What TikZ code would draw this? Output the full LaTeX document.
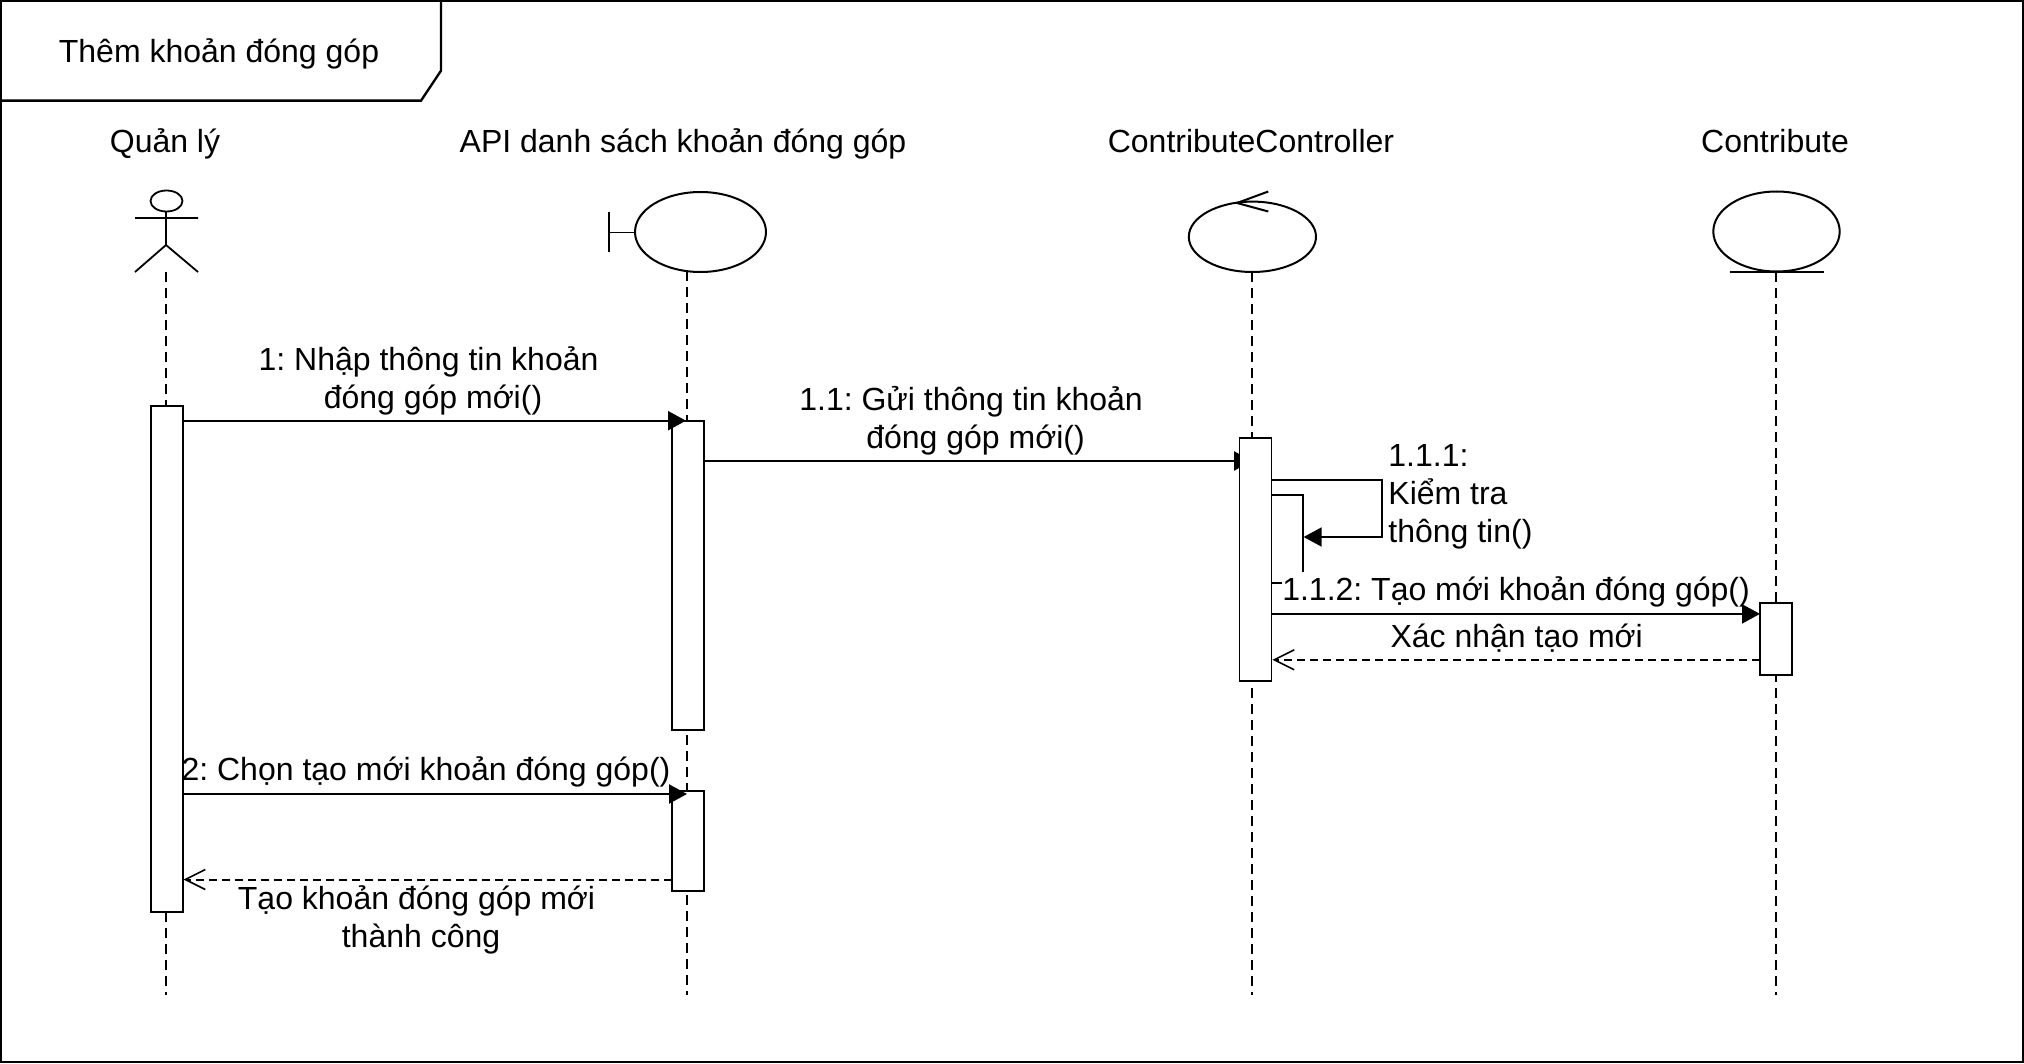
\documentclass[tikz,border=0pt]{standalone}
\usepackage{fontspec}
\setmainfont{Liberation Sans}
\frenchspacing
\usetikzlibrary{arrows.meta,shapes.geometric}
\tikzset{
  x=0.5pt,y=-0.5pt,
  every node/.style={font=\fontsize{16}{19}\selectfont,inner sep=0pt,text=black},
  base/.style={line width=1.1pt,line join=miter},
  lifeline/.style={line width=0.9pt,dash pattern=on 5pt off 3pt},
  headshape/.style={draw,ellipse,line width=1pt,fill=white,inner sep=0pt},
  activation/.style={draw,fill=white,line width=0.9pt,minimum width=16pt},
  call/.style={base,-{Triangle[length=9pt,width=9.5pt]}},
  reply/.style={line width=1pt,dash pattern=on 4pt off 2.5pt,-{Straight Barb[length=10pt,width=10pt,line width=0.8pt]}},
  msg/.style={align=center},
}
\newcommand{\trailspace}{\kern 0.278em}
\begin{document}
\begin{tikzpicture}
\useasboundingbox (0,0) rectangle (2024,1064);
% frame
\draw[line width=1.2pt,fill=white] (1,1) rectangle (2023,1062);
\draw[line width=1.2pt] (1,100.7) -- (421,100.7) -- (441,70.7) -- (441,1);
\node (title) at (219,53.5) {Thêm khoản đóng góp};
% participant names
\node (nA) at (165,143.5) {Quản lý};
\node (nB) at (683,143.5) {API danh sách khoản đóng góp};
\node (nC) at (1251,141) {ContributeController};
\node (nD) at (1775,141) {Contribute};
% actor
\draw[line width=0.9pt] (166,211.5) -- (166,245) (135,218) -- (198,218) (135,272) -- (166,245) -- (198,272);
\node[draw,ellipse,line width=0.9pt,minimum width=16pt,minimum height=10.5pt] (actor) at (166.5,201) {};
\coordinate (actorFoot) at (166,272);
% boundary
\node[headshape,minimum width=65.5pt,minimum height=40pt] (boundary) at (700.5,232) {};
\coordinate (bBar) at (609,232.5);
\draw[line width=0.9pt] (bBar) -- (bBar -| boundary.west) (609,212.5) -- (609,252);
% control
\node[headshape,minimum width=63.6pt,minimum height=35.2pt] (control) at (1252.4,236.8) {};
\draw[line width=1pt] (1268.3,191.5) -- (1237,203) -- (1268.3,211.5);
% entity
\node[headshape,minimum width=63.2pt,minimum height=40pt] (entity) at (1776.5,231.5) {};
\draw[line width=1pt] (1729.5,272) -- (1824,272);
% lifelines
\coordinate (bTop) at (687,271);
\coordinate (cTop) at (1252,272);
\coordinate (eTop) at (1776,272);
\coordinate (aEnd) at (166,995);
\coordinate (bEnd) at (687,995);
\coordinate (cEnd) at (1252,995);
\coordinate (eEnd) at (1776,995);
\draw[lifeline] (actorFoot) -- (aEnd);
\draw[lifeline] (bTop) -- (bEnd);
\draw[lifeline] (cTop) -- (cEnd);
\draw[lifeline] (eTop) -- (eEnd);
% message 1.1 passes under the controller activation
\coordinate (m11s) at (703.8,461);
\coordinate (m11e) at (1252,461);
\draw[call] (m11s) -- (m11e);
% activations
\node[activation,minimum height=253pt] (a0) at (166.8,658.8) {};
\node[activation,minimum height=154.6pt] (a1) at (687.6,575.3) {};
\node[activation,minimum height=49.75pt] (a2) at (687.6,841) {};
\node[activation,minimum height=121.25pt] (a3) at (1255.5,559.6) {};
\node[activation,minimum height=35.65pt] (a4) at (1776.2,639) {};
% message 1
\coordinate (m1s) at (182.6,420.7);
\coordinate (m1e) at (686,420.7);
\draw[call] (m1s) -- (m1e);
\node[msg] (l1) at (433,381) {1: Nhập thông tin khoản\trailspace\\đóng góp mới()};
\node[msg] (l11) at (975.5,421) {1.1: Gửi thông tin khoản\trailspace\\đóng góp mới()};
% self message 1.1.1
\coordinate (s1) at (1271.4,480.2);
\coordinate (s2) at (1382,480.2);
\coordinate (s3) at (1382,537);
\coordinate (s4) at (1303.6,537);
\draw[call,line width=0.9pt] (s1) -- (s2) -- (s3) -- (s4);
\node[msg,align=left,anchor=west] (l111) at (1388,496.5) {1.1.1:\\Kiểm tra\\thông tin()};
% second return path, mostly hidden under the label
\coordinate (r1) at (1271.4,494.6);
\coordinate (r2) at (1303,494.6);
\coordinate (r3) at (1303,583.3);
\coordinate (r4) at (1271.4,583.3);
\draw[line width=0.9pt] (r1) -- (r2) -- (r3) -- (r4);
\node[msg,fill=white,inner xsep=0pt,inner ysep=2pt] (l112) at (1516,591.7) {1.1.2: Tạo mới khoản đóng góp()};
% message 1.1.2
\coordinate (m112s) at (1271.4,613.9);
\coordinate (m112e) at (1760,613.9);
\draw[call] (m112s) -- (m112e);
\coordinate (rcs) at (1760,659.8);
\coordinate (rce) at (1272.4,659.8);
\draw[reply] (rcs) -- (rce);
\node[msg] (lx) at (1516.7,638) {Xác nhận tạo mới};
% message 2
\coordinate (m2s) at (183,794);
\coordinate (m2e) at (687,794);
\draw[call] (m2s) -- (m2e);
\node[msg] (l2t) at (426,771.5) {2: Chọn tạo mới khoản đóng góp()};
\coordinate (r2s) at (672,879.5);
\coordinate (r2e) at (183.5,879.5);
\draw[reply] (r2s) -- (r2e);
\node[msg] (lr) at (421,920) {Tạo khoản đóng góp mới\trailspace\\thành công};
\end{tikzpicture}
\end{document}
